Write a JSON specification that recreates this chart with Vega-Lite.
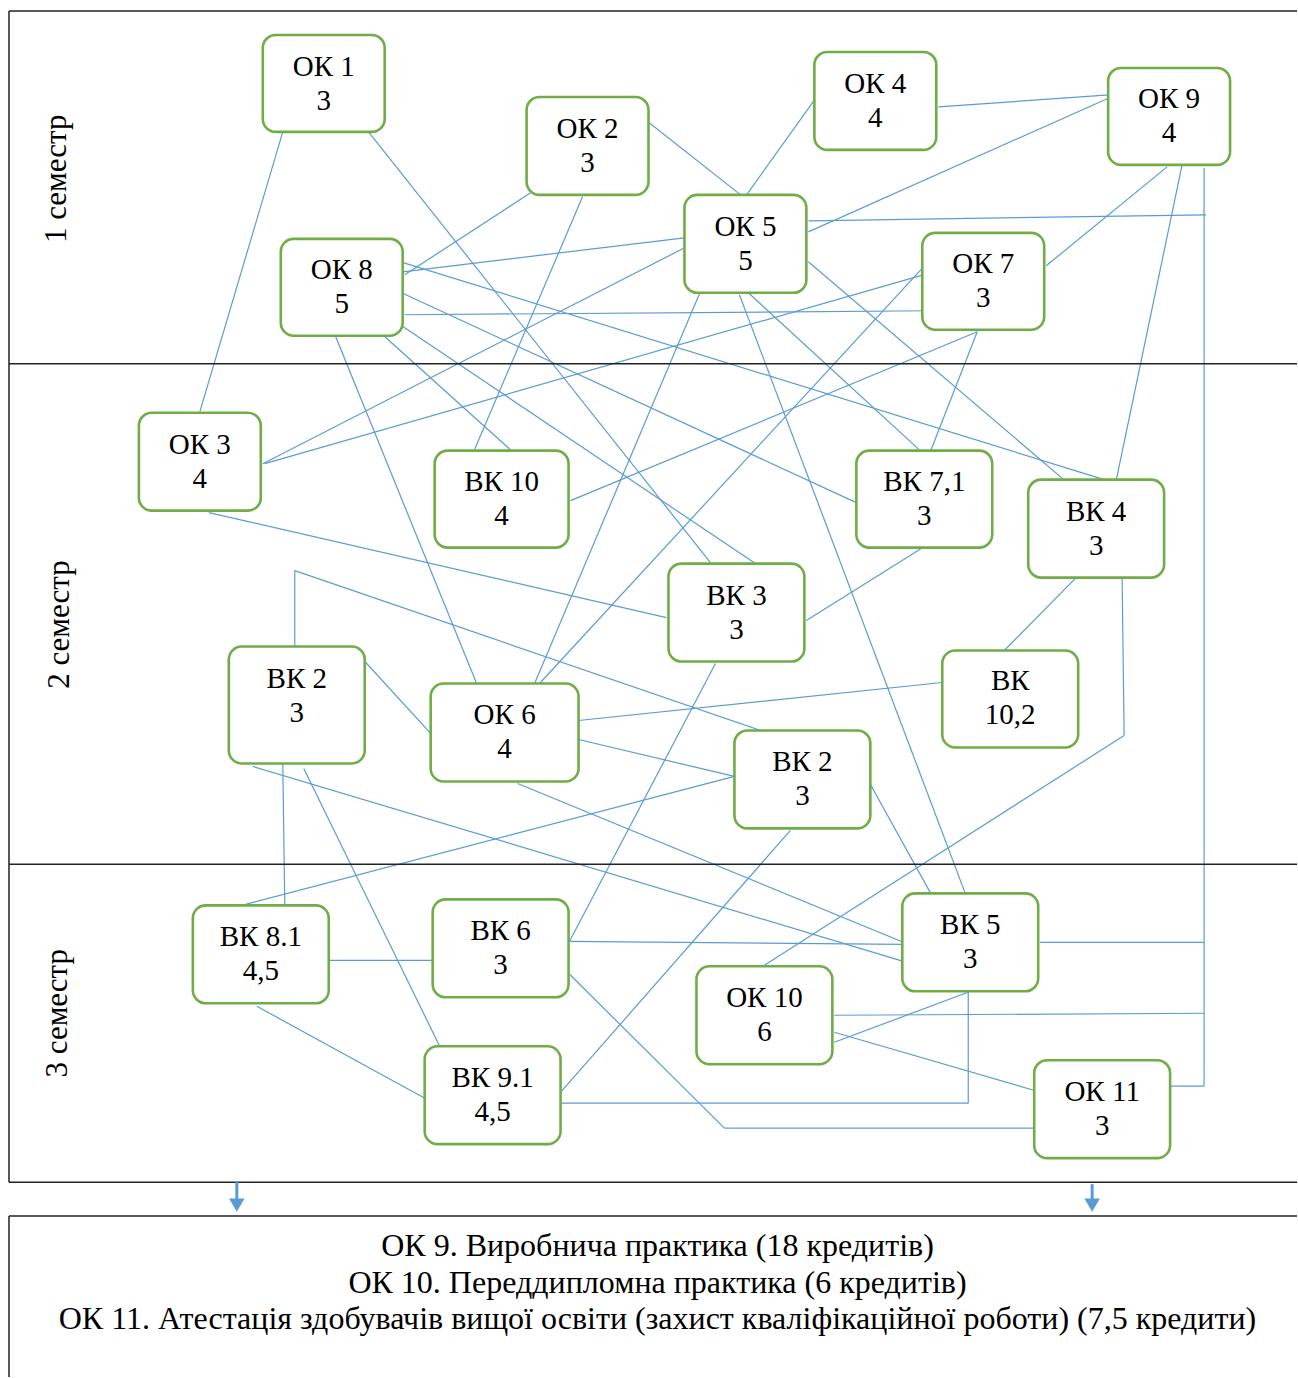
{
  "$schema": "https://vega.github.io/schema/vega-lite/v6.json",
  "width": 1298,
  "height": 1378,
  "padding": 0,
  "autosize": {"type": "fit", "contains": "padding"},
  "background": "white",
  "config": {"view": {"stroke": null}},
  "datasets": {
    "frame": [
      {"x": 9, "y": 11, "x2": 1298, "y2": 11},
      {"x": 9, "y": 11, "x2": 9, "y2": 1183},
      {"x": 9, "y": 364, "x2": 1298, "y2": 364},
      {"x": 9, "y": 865, "x2": 1298, "y2": 865},
      {"x": 9, "y": 1183, "x2": 1298, "y2": 1183},
      {"x": 9, "y": 1217, "x2": 1298, "y2": 1217},
      {"x": 9, "y": 1217, "x2": 9, "y2": 1378}
    ],
    "links": [
      {"x": 283, "y": 132, "x2": 200, "y2": 412},
      {"x": 368, "y": 131, "x2": 711, "y2": 563},
      {"x": 531, "y": 193, "x2": 405, "y2": 275},
      {"x": 583, "y": 197, "x2": 474, "y2": 452},
      {"x": 650, "y": 123, "x2": 745, "y2": 198},
      {"x": 745, "y": 198, "x2": 818, "y2": 96},
      {"x": 939, "y": 107, "x2": 1110, "y2": 95},
      {"x": 809, "y": 232, "x2": 1112, "y2": 97},
      {"x": 809, "y": 221, "x2": 1207, "y2": 215},
      {"x": 1205, "y": 168, "x2": 1205, "y2": 1087},
      {"x": 1171, "y": 1087, "x2": 1205, "y2": 1087},
      {"x": 1041, "y": 943, "x2": 1205, "y2": 943},
      {"x": 835, "y": 1016, "x2": 1205, "y2": 1014},
      {"x": 403, "y": 272, "x2": 685, "y2": 238},
      {"x": 401, "y": 262, "x2": 1105, "y2": 480},
      {"x": 404, "y": 294, "x2": 857, "y2": 503},
      {"x": 402, "y": 326, "x2": 759, "y2": 566},
      {"x": 405, "y": 315, "x2": 929, "y2": 311},
      {"x": 383, "y": 335, "x2": 513, "y2": 452},
      {"x": 336, "y": 337, "x2": 477, "y2": 684},
      {"x": 687, "y": 247, "x2": 263, "y2": 464},
      {"x": 924, "y": 275, "x2": 265, "y2": 464},
      {"x": 809, "y": 262, "x2": 1067, "y2": 482},
      {"x": 700, "y": 294, "x2": 535, "y2": 684},
      {"x": 740, "y": 295, "x2": 966, "y2": 894},
      {"x": 750, "y": 294, "x2": 922, "y2": 452},
      {"x": 927, "y": 264, "x2": 540, "y2": 684},
      {"x": 1047, "y": 266, "x2": 1168, "y2": 167},
      {"x": 978, "y": 332, "x2": 571, "y2": 501},
      {"x": 978, "y": 332, "x2": 931, "y2": 452},
      {"x": 1183, "y": 165, "x2": 1117, "y2": 481},
      {"x": 209, "y": 513, "x2": 667, "y2": 618},
      {"x": 295, "y": 647, "x2": 295, "y2": 571},
      {"x": 295, "y": 571, "x2": 767, "y2": 733},
      {"x": 366, "y": 663, "x2": 431, "y2": 734},
      {"x": 253, "y": 767, "x2": 904, "y2": 962},
      {"x": 283, "y": 764, "x2": 285, "y2": 906},
      {"x": 304, "y": 769, "x2": 441, "y2": 1049},
      {"x": 579, "y": 721, "x2": 943, "y2": 683},
      {"x": 579, "y": 740, "x2": 735, "y2": 777},
      {"x": 518, "y": 784, "x2": 904, "y2": 943},
      {"x": 570, "y": 942, "x2": 905, "y2": 945},
      {"x": 735, "y": 777, "x2": 242, "y2": 906},
      {"x": 870, "y": 783, "x2": 932, "y2": 895},
      {"x": 791, "y": 831, "x2": 562, "y2": 1092},
      {"x": 807, "y": 621, "x2": 922, "y2": 549},
      {"x": 716, "y": 664, "x2": 570, "y2": 942},
      {"x": 1076, "y": 579, "x2": 1005, "y2": 651},
      {"x": 1123, "y": 579, "x2": 1125, "y2": 736},
      {"x": 1125, "y": 736, "x2": 765, "y2": 966},
      {"x": 330, "y": 961, "x2": 437, "y2": 961},
      {"x": 257, "y": 1007, "x2": 427, "y2": 1100},
      {"x": 570, "y": 975, "x2": 725, "y2": 1129},
      {"x": 725, "y": 1129, "x2": 1037, "y2": 1129},
      {"x": 562, "y": 1104, "x2": 969, "y2": 1104},
      {"x": 969, "y": 1104, "x2": 969, "y2": 993},
      {"x": 835, "y": 1043, "x2": 974, "y2": 991},
      {"x": 835, "y": 1033, "x2": 1038, "y2": 1092}
    ],
    "arrows": [
      {"x": 237, "y": 1183, "x2": 237, "y2": 1200, "ty": 1206},
      {"x": 1093, "y": 1185, "x2": 1093, "y2": 1200, "ty": 1206}
    ],
    "boxes": [
      {"label": "ОК 1\n3", "x": 263, "x2": 385, "y": 35, "y2": 132, "tx": 324, "ty": 84},
      {"label": "ОК 2\n3", "x": 527, "x2": 649, "y": 97, "y2": 195, "tx": 588, "ty": 146},
      {"label": "ОК 4\n4", "x": 815, "x2": 937, "y": 52, "y2": 150, "tx": 876, "ty": 101},
      {"label": "ОК 9\n4", "x": 1109, "x2": 1231, "y": 68, "y2": 165, "tx": 1170, "ty": 116},
      {"label": "ОК 5\n5", "x": 685, "x2": 807, "y": 195, "y2": 293, "tx": 746, "ty": 244},
      {"label": "ОК 8\n5", "x": 281, "x2": 403, "y": 239, "y2": 336, "tx": 342, "ty": 287},
      {"label": "ОК 7\n3", "x": 923, "x2": 1045, "y": 233, "y2": 330, "tx": 984, "ty": 281},
      {"label": "ОК 3\n4", "x": 139, "x2": 261, "y": 413, "y2": 511, "tx": 200, "ty": 462},
      {"label": "ВК 10\n4", "x": 435, "x2": 569, "y": 451, "y2": 548, "tx": 502, "ty": 499},
      {"label": "ВК 7,1\n3", "x": 857, "x2": 993, "y": 451, "y2": 548, "tx": 925, "ty": 499},
      {"label": "ВК 4\n3", "x": 1029, "x2": 1165, "y": 480, "y2": 578, "tx": 1097, "ty": 529},
      {"label": "ВК 3\n3", "x": 669, "x2": 805, "y": 564, "y2": 662, "tx": 737, "ty": 613},
      {"label": "ВК 2\n3", "x": 229, "x2": 365, "y": 647, "y2": 764, "tx": 297, "ty": 697},
      {"label": "ОК 6\n4", "x": 431, "x2": 579, "y": 684, "y2": 782, "tx": 505, "ty": 733},
      {"label": "ВК\n10,2", "x": 943, "x2": 1079, "y": 651, "y2": 748, "tx": 1011, "ty": 699},
      {"label": "ВК 2\n3", "x": 735, "x2": 871, "y": 731, "y2": 829, "tx": 803, "ty": 780},
      {"label": "ВК 8.1\n4,5", "x": 193, "x2": 329, "y": 906, "y2": 1004, "tx": 261, "ty": 955},
      {"label": "ВК 6\n3", "x": 433, "x2": 569, "y": 900, "y2": 998, "tx": 501, "ty": 949},
      {"label": "ВК 5\n3", "x": 903, "x2": 1039, "y": 894, "y2": 992, "tx": 971, "ty": 943},
      {"label": "ОК 10\n6", "x": 697, "x2": 833, "y": 967, "y2": 1065, "tx": 765, "ty": 1016},
      {"label": "ВК 9.1\n4,5", "x": 425, "x2": 561, "y": 1047, "y2": 1145, "tx": 493, "ty": 1096},
      {"label": "ОК 11\n3", "x": 1035, "x2": 1171, "y": 1061, "y2": 1159, "tx": 1103, "ty": 1110}
    ],
    "semesters": [
      {"label": "1 семестр", "x": 57, "y": 179},
      {"label": "2 семестр", "x": 60, "y": 625},
      {"label": "3 семестр", "x": 58, "y": 1014}
    ],
    "notes": [
      {"label": "ОК 9. Виробнича практика (18 кредитів)", "x": 658, "y": 1247},
      {"label": "ОК 10. Переддипломна практика (6 кредитів)", "x": 658, "y": 1284},
      {"label": "ОК 11. Атестація здобувачів вищої освіти (захист кваліфікаційної роботи) (7,5 кредити)", "x": 658, "y": 1320}
    ]
  },
  "layer": [
    {
      "data": {"name": "links"},
      "mark": {"type": "rule", "color": "#5B9BD5", "strokeWidth": 1.2},
      "encoding": {
        "x": {"field": "x", "type": "quantitative", "scale": {"domain": [0, 1298], "nice": false, "zero": false}, "axis": null},
        "y": {"field": "y", "type": "quantitative", "scale": {"domain": [0, 1378], "reverse": true, "nice": false, "zero": false}, "axis": null},
        "x2": {"field": "x2"},
        "y2": {"field": "y2"}
      }
    },
    {
      "data": {"name": "frame"},
      "mark": {"type": "rule", "color": "#222222", "strokeWidth": 1.5},
      "encoding": {
        "x": {"field": "x", "type": "quantitative", "scale": {"domain": [0, 1298], "nice": false, "zero": false}, "axis": null},
        "y": {"field": "y", "type": "quantitative", "scale": {"domain": [0, 1378], "reverse": true, "nice": false, "zero": false}, "axis": null},
        "x2": {"field": "x2"},
        "y2": {"field": "y2"}
      }
    },
    {
      "data": {"name": "arrows"},
      "mark": {"type": "rule", "color": "#5B9BD5", "strokeWidth": 3},
      "encoding": {
        "x": {"field": "x", "type": "quantitative", "axis": null},
        "y": {"field": "y", "type": "quantitative", "axis": null},
        "x2": {"field": "x2"},
        "y2": {"field": "y2"}
      }
    },
    {
      "data": {"name": "arrows"},
      "mark": {"type": "point", "shape": "triangle-down", "filled": true, "color": "#5B9BD5", "size": 240, "opacity": 1},
      "encoding": {
        "x": {"field": "x", "type": "quantitative", "axis": null},
        "y": {"field": "ty", "type": "quantitative", "axis": null}
      }
    },
    {
      "data": {"name": "boxes"},
      "mark": {"type": "rect", "fill": "white", "stroke": "#70AD47", "strokeWidth": 2.6, "cornerRadius": 13},
      "encoding": {
        "x": {"field": "x", "type": "quantitative", "axis": null},
        "y": {"field": "y", "type": "quantitative", "axis": null},
        "x2": {"field": "x2"},
        "y2": {"field": "y2"}
      }
    },
    {
      "data": {"name": "boxes"},
      "mark": {"type": "text", "font": "Liberation Serif", "fontSize": 29, "lineBreak": "\n", "lineHeight": 34, "dy": -17, "align": "center", "baseline": "middle", "color": "black"},
      "encoding": {
        "x": {"field": "tx", "type": "quantitative", "axis": null},
        "y": {"field": "ty", "type": "quantitative", "axis": null},
        "text": {"field": "label"}
      }
    },
    {
      "data": {"name": "semesters"},
      "mark": {"type": "text", "font": "Liberation Serif", "fontSize": 31, "angle": 270, "align": "center", "baseline": "middle", "color": "black"},
      "encoding": {
        "x": {"field": "x", "type": "quantitative", "axis": null},
        "y": {"field": "y", "type": "quantitative", "axis": null},
        "text": {"field": "label"}
      }
    },
    {
      "data": {"name": "notes"},
      "mark": {"type": "text", "font": "Liberation Serif", "fontSize": 32, "align": "center", "baseline": "middle", "color": "black"},
      "encoding": {
        "x": {"field": "x", "type": "quantitative", "axis": null},
        "y": {"field": "y", "type": "quantitative", "axis": null},
        "text": {"field": "label"}
      }
    }
  ]
}
